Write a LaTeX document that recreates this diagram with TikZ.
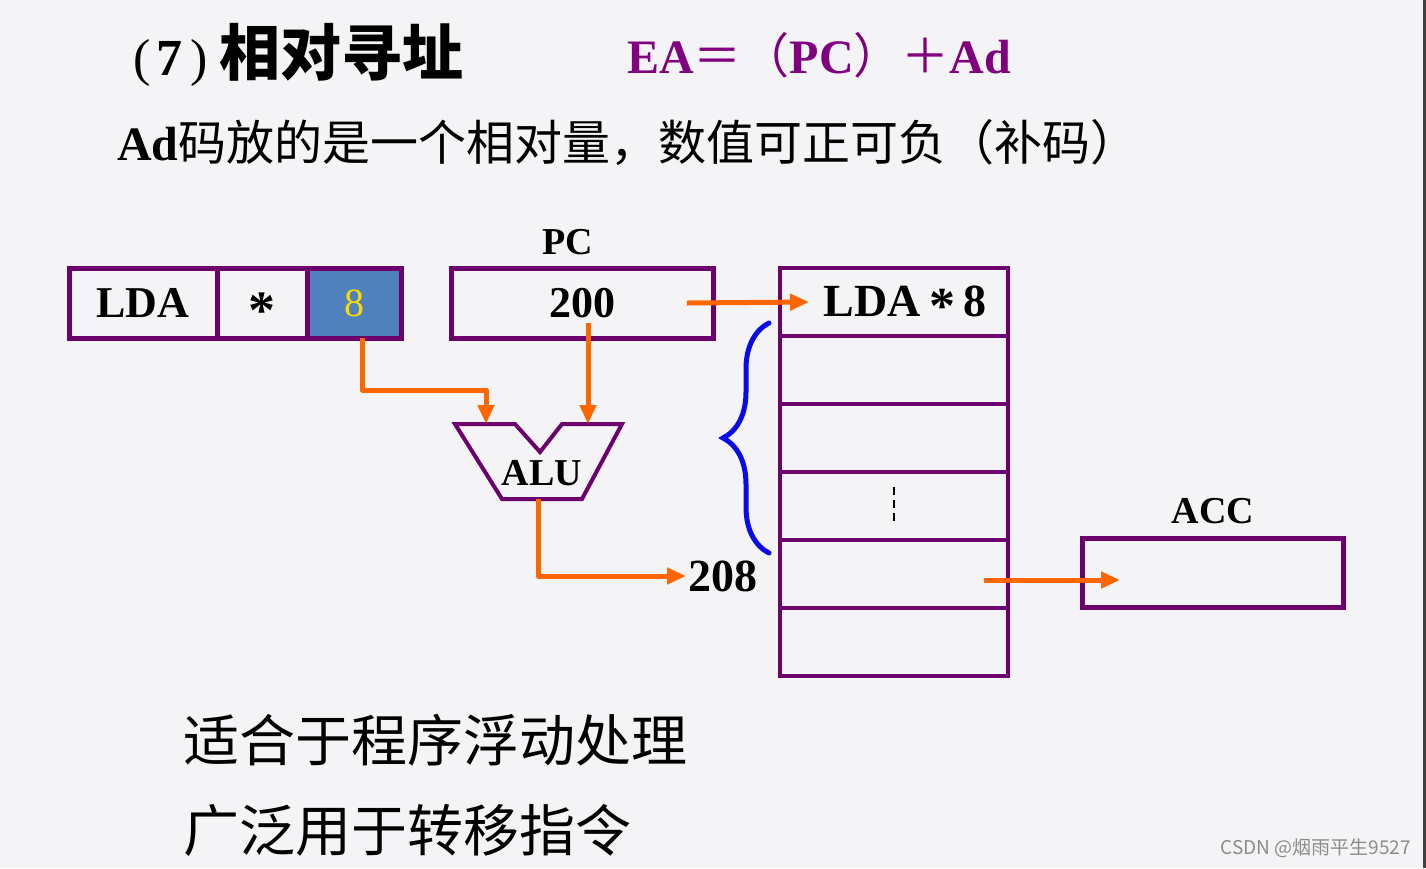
\documentclass[tikz,border=0pt]{standalone}
\usepackage{fontspec}
\setmainfont{Liberation Serif}
\newfontfamily\cjk{Noto Sans CJK SC}
\usepackage{xcolor}
\usepackage{tikz}
\usetikzlibrary{arrows.meta, positioning, decorations.pathreplacing}
\definecolor{regpurple}{RGB}{108,0,108}
\definecolor{eapurple}{RGB}{128,0,128}
\definecolor{floworange}{RGB}{255,102,0}
\definecolor{dispblue}{RGB}{79,129,189}
\definecolor{dispyellow}{RGB}{255,215,0}
\definecolor{braceblue}{RGB}{10,10,235}
\definecolor{slidebg}{RGB}{244,243,245}
\newcommand{\fsz}[1]{\fontsize{#1}{#1}\selectfont}

\begin{document}
\begin{tikzpicture}[
  x=1pt, y=-1pt,
  node distance=8pt,
  reg/.style={rectangle, draw=regpurple, line width=5pt, outer sep=0pt, inner sep=0pt, minimum height=70pt, font=\fsz{44}\bfseries},
  cell/.style={rectangle, draw=regpurple, line width=4pt, outer sep=0pt, minimum width=228pt, minimum height=68pt},
  lbl/.style={inner sep=1pt, font=\fsz{38}\bfseries},
  arrow/.style={-{Triangle[length=19pt,width=16pt]}, draw=floworange, line width=5pt, line join=round}
]
\fill[slidebg] (0,0) rectangle (1426,868);
\fill[black!75] (1423,0) rectangle (1426,868);

% heading
\node[anchor=west, inner sep=0pt] (title) at (133,55) {\fsz{52}(\kern6pt\textbf{7}\kern8pt)\kern12pt{\cjk\bfseries\fsz{61}相对寻址}};
\node[anchor=west, inner sep=0pt, text=eapurple, font=\fsz{48}\bfseries] (ea) at (627,55) {EA{\cjk\mdseries ＝（}PC{\cjk\mdseries ）＋}Ad};
\node[anchor=west, inner sep=0pt, font=\fsz{48}] (note) at (117,143) {\textbf{Ad}\cjk 码放的是一个相对量，数值可正可负（补码）};

% instruction
\node[reg, minimum width=148pt] (lda) at (143,303) {LDA};
\node[reg, minimum width=90pt, right=0pt of lda, font=\fsz{54}\bfseries] (star) {\raisebox{-25pt}[0pt][0pt]{*}};
\node[reg, minimum width=94pt, right=0pt of star, fill=dispblue, text=dispyellow, font=\fsz{40}] (disp) {8};

% PC
\node[reg, minimum width=262pt] (pc) at (582,303) {200};
\node[lbl, above=12pt of pc, xshift=-14pt] (pclbl) {PC};

% ALU
\node[font=\fsz{38}\bfseries, inner sep=0pt] (alu) at (542,473) {ALU};
\draw[regpurple, line width=4pt] (455,424) -- (515,424) -- (540,452) -- (562,424) -- (622,424) -- (582,499) -- (502,499) -- cycle;
\coordinate (aluinL) at (486,424);
\coordinate (aluinR) at (588,424);
\coordinate (aluout) at (538,499);
\node[anchor=west, inner sep=2pt, font=\fsz{46}\bfseries] (ea208) at (686,576) {208};

% memory
\foreach \i in {1,...,6}
  \node[cell] (m\i) at (894, 234+68*\i) {};
\node[inner sep=0pt, font=\fsz{46}\bfseries] (ins) at ([xshift=11pt,yshift=-3pt]m1.center) {LDA\kern8pt\raisebox{-7pt}{\fsz{52}*}\kern8pt8};
\draw[line width=2pt, dash pattern=on 8pt off 5pt] ([yshift=19pt]m4.center) -- ([yshift=-17pt]m4.center);
\draw[braceblue, line width=5pt, line cap=round, decorate, decoration={brace, amplitude=46pt}] (769,553) -- (769,323);

% ACC
\node[reg, minimum width=261pt, minimum height=69pt, line width=4.5pt] (acc) at (1213,573) {};
\node[lbl, above=13pt of acc] (acclbl) {ACC};

% data paths
\draw[arrow] ([xshift=8pt]disp.south) -- ++(0,52) -| (aluinL);
\draw[arrow] ([xshift=6pt,yshift=-20pt]pc.center) -- (aluinR);
\draw[arrow] (aluout) |- (ea208.west);
\draw[arrow] ([xshift=105pt]pc.center) -- ([xshift=-85pt]m1.center);
\draw[arrow] ([xshift=90pt,yshift=-6pt]m5.center) -- ([xshift=-93pt,yshift=-7pt]acc.center);

% notes
\node[anchor=west, inner sep=0pt, font=\cjk\fsz{56}] (use1) at (183,740) {适合于程序浮动处理};
\node[anchor=west, inner sep=0pt, font=\cjk\fsz{56}] (use2) at (183,830) {广泛用于转移指令};
\node[anchor=east, inner sep=0pt, text=black!45, font=\cjk\fsz{19}] (mark) at (1411,848) {CSDN @烟雨平生9527};
\end{tikzpicture}
\end{document}
